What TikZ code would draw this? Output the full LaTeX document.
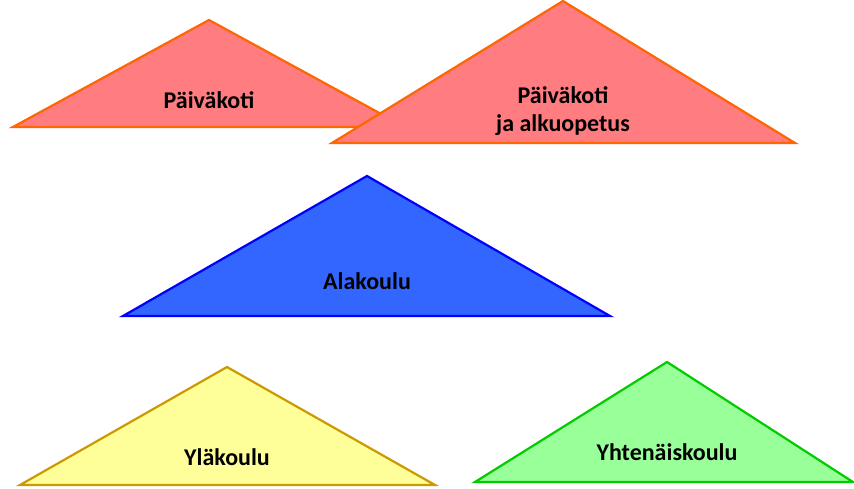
\documentclass[tikz,border=0pt]{standalone}
\usepackage{fontspec}
\setmainfont{Carlito}
\definecolor{pinkfill}{HTML}{FF7C80}
\definecolor{pinkline}{HTML}{FF6600}
\definecolor{bluefill}{HTML}{3366FF}
\definecolor{blueline}{HTML}{0000FF}
\definecolor{yelfill}{HTML}{FFFF99}
\definecolor{yelline}{HTML}{CC9900}
\definecolor{grnfill}{HTML}{99FF99}
\definecolor{grnline}{HTML}{00CC00}
\tikzset{
  tri/.style={line width=2.2pt, line join=miter},
  lbl/.style={font=\fontsize{24}{28}\selectfont\bfseries, text=black, inner sep=0pt, align=center}
}
\begin{document}
\begin{tikzpicture}[x=1pt,y=-1pt]
\useasboundingbox[fill=white] (0,0) rectangle (854,489);
% Paivakoti
\draw[tri, fill=pinkfill, draw=pinkline] (13,127) -- (209,20) -- (405,127) -- cycle;
\node[lbl, anchor=base] (pk) at (209,109) {Päiväkoti};
% Paivakoti ja alkuopetus
\draw[tri, fill=pinkfill, draw=pinkline] (332,143) -- (563,1) -- (795,143) -- cycle;
\node[lbl] (pka) at (563,111) {Päiväkoti\\ja alkuopetus};
% Alakoulu
\draw[tri, fill=bluefill, draw=blueline] (123,316) -- (367,176) -- (610,316) -- cycle;
\node[lbl, anchor=base] (ala) at (367,289) {Alakoulu};
% Ylakoulu
\draw[tri, fill=yelfill, draw=yelline] (20,485) -- (227,367) -- (435,485) -- cycle;
\node[lbl, anchor=base] (yla) at (227,465) {Yläkoulu};
% Yhtenaiskoulu
\draw[tri, fill=grnfill, draw=grnline] (475,482) -- (667,362) -- (853,482) -- cycle;
\node[lbl, anchor=base] (yht) at (667,460) {Yhtenäiskoulu};
\end{tikzpicture}
\end{document}
